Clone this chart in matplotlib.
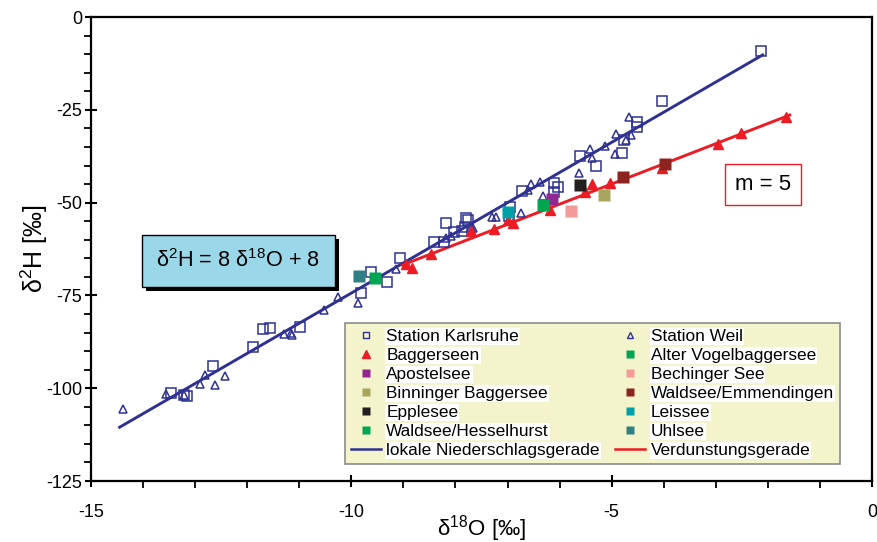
import matplotlib.pyplot as plt
import matplotlib.patheffects as pe
from matplotlib.lines import Line2D
from matplotlib.ticker import MultipleLocator

plt.rcParams['font.family'] = ['Liberation Sans', 'DejaVu Sans']
plt.rcParams['mathtext.fontset'] = 'custom'
plt.rcParams['mathtext.rm'] = 'Liberation Sans'
plt.rcParams['mathtext.default'] = 'regular'
plt.rcParams['axes.unicode_minus'] = False

# precipitation stations (delta18O, delta2H in permil)
karlsruhe_x = [-2.13, -4.04, -4.52, -4.52, -4.76, -5.6, -5.31, -4.81, -6.1, -6.03, -6.1, -6.73,
               -6.96, -6.97, -9.81, -9.63, -9.31, -9.06, -8.42, -8.23, -8.03, -7.88, -8.19, -7.8,
               -7.76, -7.81, -13.46, -13.21, -13.15, -12.65, -11.89, -11.69, -11.56, -10.99]
karlsruhe_y = [-9.1, -22.5, -28.4, -29.5, -33.0, -37.4, -40.1, -36.5, -44.8, -45.7, -47.1, -46.9,
               -51.3, -53.5, -74.3, -68.8, -71.4, -65.0, -60.7, -60.5, -57.8, -57.7, -55.4, -54.2,
               -54.7, -56.5, -101.3, -101.9, -102.0, -94.1, -89.0, -84.1, -83.9, -83.6]
weil_x = [-4.67, -4.91, -4.62, -4.73, -5.13, -5.42, -5.38, -4.94, -5.63, -6.37, -6.54, -6.6,
          -6.31, -6.74, -7.29, -7.22, -9.14, -10.26, -9.88, -8.19, -8.08, -7.71, -7.66, -14.39,
          -13.56, -13.21, -12.9, -12.81, -12.62, -12.42, -11.3, -11.15, -11.14, -10.53]
weil_y = [-26.9, -31.6, -31.8, -33.0, -34.8, -35.6, -37.9, -36.9, -41.9, -44.4, -45.1, -46.6,
          -48.1, -52.7, -53.8, -53.8, -68.0, -75.4, -77.0, -59.6, -58.9, -56.5, -56.7, -105.5,
          -101.6, -101.7, -98.9, -96.4, -99.0, -96.8, -85.5, -85.0, -85.6, -78.9]

# quarry lakes
bagger_x = [-8.95, -8.83, -8.47, -7.71, -7.26, -7.0, -6.9, -6.19, -5.51, -5.37, -5.03, -4.04,
            -2.95, -2.51, -1.65]
bagger_y = [-66.6, -67.6, -63.9, -57.7, -57.1, -54.7, -55.4, -52.0, -47.1, -45.1, -44.8, -40.6,
            -34.3, -31.2, -26.8]

lakes = ['Alter Vogelbaggersee', 'Apostelsee', 'Bechinger See', 'Binninger Baggersee',
         'Waldsee/Emmendingen', 'Epplesee', 'Leissee', 'Waldsee/Hesselhurst', 'Uhlsee']
lake_x = [[-9.54], [-6.14], [-5.79], [-5.14], [-4.79, -3.97], [-5.6], [-6.99], [-6.32], [-9.85]]
lake_y = [[-70.2], [-48.9], [-52.2], [-47.9], [-43.2, -39.6], [-45.3], [-52.4], [-50.5], [-69.7]]
lake_colors = ['#00a651', '#92278f', '#f49a9a', '#a8a55e', '#8e2420', '#231f20', '#00a0a8',
               '#00a651', '#2f7f84']

# regression lines
lmwl_x = [-14.45, -2.1]
lmwl_y = [-110.5, -10.2]
evap_x = [-9.02, -1.58]
evap_y = [-66.8, -26.4]

blue = '#2e3192'
red = '#ed1c24'

fig = plt.figure(figsize=(8.77, 5.42), dpi=100)
ax = fig.add_axes([0.1038, 0.1125, 0.8905, 0.856])

ax.plot(lmwl_x, lmwl_y, color=blue, lw=2.1, zorder=2)
ax.plot(evap_x, evap_y, color=red, lw=2.1, zorder=2)
ax.plot(karlsruhe_x, karlsruhe_y, 's', ms=6.5, mfc='none', mec=blue, mew=1.1, zorder=3)
ax.plot(weil_x, weil_y, '^', ms=6, mfc='none', mec=blue, mew=1.1, zorder=3)
ax.plot(bagger_x, bagger_y, '^', ms=7, color=red, zorder=4)
for xs, ys, c in zip(lake_x, lake_y, lake_colors):
    ax.plot(xs, ys, 's', ms=8.5, color=c, mec='none', zorder=5)

ax.set_xlim(-15, 0)
ax.set_ylim(-125, 0)
ax.xaxis.set_major_locator(MultipleLocator(5))
ax.xaxis.set_minor_locator(MultipleLocator(1))
ax.yaxis.set_major_locator(MultipleLocator(25))
ax.yaxis.set_minor_locator(MultipleLocator(5))
ax.tick_params(which='major', direction='inout', length=9, width=1.5, labelsize=13)
ax.tick_params(axis='x', which='major', pad=12)
ax.tick_params(axis='y', which='major', pad=2)
ax.tick_params(which='minor', direction='out', length=5, width=1.3)
for s in ax.spines.values():
    s.set_linewidth(1.6)

ax.set_xlabel('δ$^{18}$O [‰]', fontsize=16, labelpad=-6)
ax.set_ylabel('δ$^2$H [‰]', fontsize=18, labelpad=-3)

# equation box with a black drop shadow
eq_text = ax.text(-12.17, -65.7, 'δ$^2$H = 8 δ$^{18}$O + 8', fontsize=15.6, ha='center', va='center',
                  bbox=dict(boxstyle='square,pad=0.66', fc='#9ad7e9', ec='black', lw=1), zorder=7)
eq_text.get_bbox_patch().set_path_effects([
    pe.SimplePatchShadow(offset=(3, -3), shadow_rgbFace='black', alpha=1), pe.Normal()])

ax.text(-2.1, -45.0, 'm = 5', fontsize=16, ha='center', va='center',
        bbox=dict(boxstyle='square,pad=0.45', fc='white', ec=red, lw=1), zorder=7)

# legend, filled column by column
h_karl = Line2D([], [], ls='none', marker='s', ms=5, mfc='none', mec=blue, mew=1)
h_weil = Line2D([], [], ls='none', marker='^', ms=5, mfc='none', mec=blue, mew=1)
h_bagger = Line2D([], [], ls='none', marker='^', ms=6, color=red)
h_lakes = [Line2D([], [], ls='none', marker='s', ms=6, color=c, mec='none') for c in lake_colors]
h_lmwl = Line2D([], [], color=blue, lw=1.8)
h_evap = Line2D([], [], color=red, lw=1.8)

left = [(h_karl, 'Station Karlsruhe'), (h_bagger, 'Baggerseen'), (h_lakes[1], lakes[1]),
        (h_lakes[3], lakes[3]), (h_lakes[5], lakes[5]), (h_lakes[7], lakes[7]),
        (h_lmwl, 'lokale Niederschlagsgerade')]
right = [(h_weil, 'Station Weil'), (h_lakes[0], lakes[0]), (h_lakes[2], lakes[2]),
         (h_lakes[4], lakes[4]), (h_lakes[6], lakes[6]), (h_lakes[8], lakes[8]),
         (h_evap, 'Verdunstungsgerade')]
handles = [h for h, _ in left + right]
labels = [l for _, l in left + right]

leg = ax.legend(handles, labels, ncol=2, loc='upper left', bbox_to_anchor=(0.3252, 0.3405),
                fontsize=12.4, frameon=True, fancybox=False, labelspacing=0.23,
                handlelength=1.75, handletextpad=0.3, borderpad=0.35, borderaxespad=0,
                columnspacing=0.9)
leg.get_frame().set_facecolor('#f3f3cc')
leg.get_frame().set_edgecolor('#8c8c8c')
leg.get_frame().set_linewidth(1.2)
leg.get_frame().set_alpha(1)
for t in leg.get_texts():
    t.set_bbox(dict(fc='white', ec='none', pad=0.8))

fig.savefig('out.png', dpi=100)
